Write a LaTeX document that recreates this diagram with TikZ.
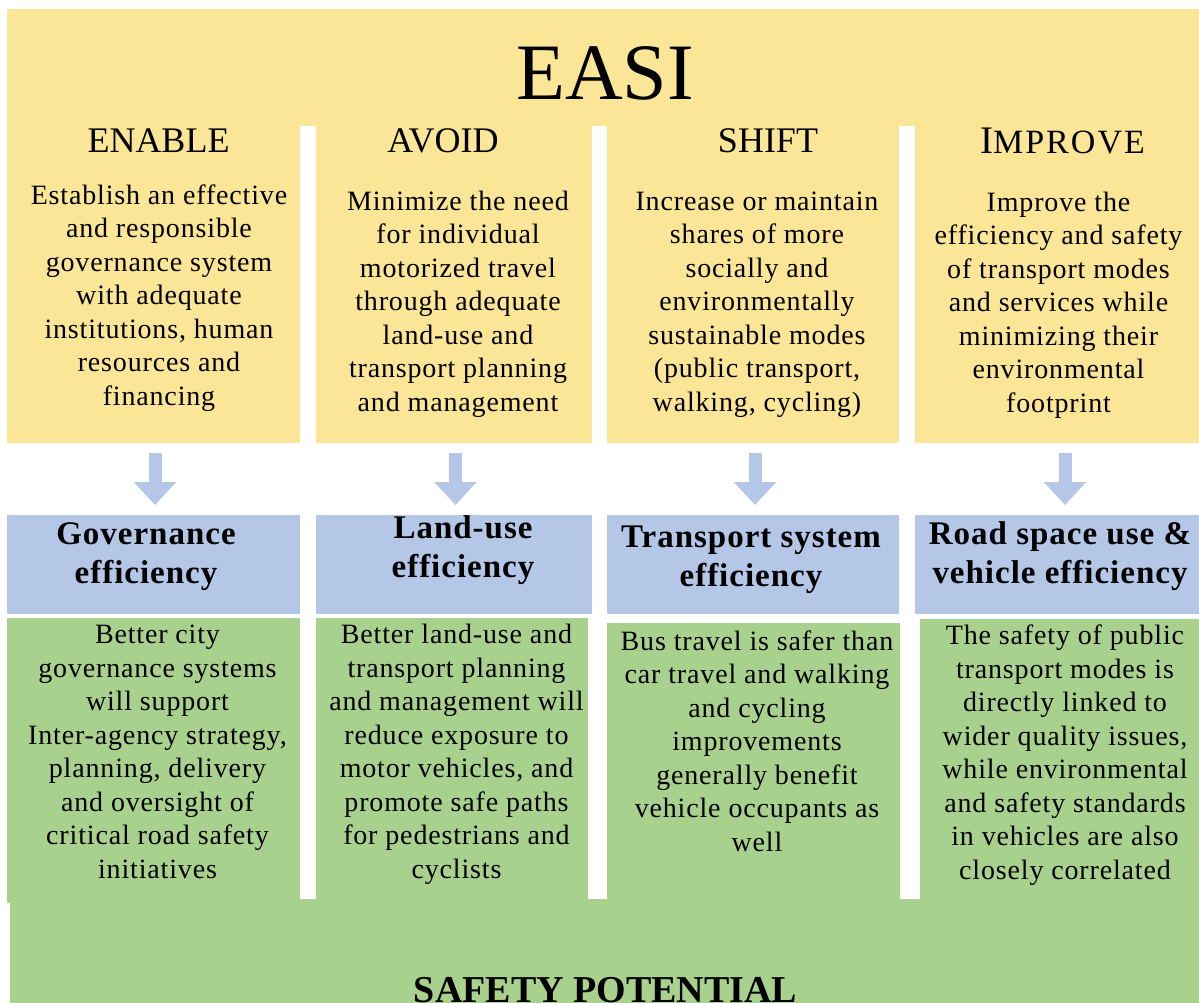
\documentclass[tikz,border=0pt]{standalone}
\usepackage{fontspec}
\setmainfont{Liberation Serif}
\usetikzlibrary{arrows.meta}
\definecolor{ylw}{HTML}{FBE596}
\definecolor{blu}{HTML}{B4C7E7}
\definecolor{grn}{HTML}{A9D18E}
\begin{document}
\begin{tikzpicture}[x=1pt,y=-1pt,
  panel/.style={rectangle, inner sep=0pt, outer sep=0pt, draw=none},
  ybox/.style={panel, fill=ylw},
  bbox/.style={panel, fill=blu},
  gbox/.style={panel, fill=grn},
  barrow/.style={draw=blu, line width=13pt, -{Triangle[width=41pt,length=23pt]}},
  ttl/.style={inner sep=0pt, anchor=base, font=\fontsize{80}{96}\selectfont},
  head/.style={inner sep=0pt, anchor=base, font=\fontsize{36}{40}\selectfont},
  body/.style={inner sep=0pt, anchor=base, align=center,
    font=\fontsize{28}{33.5}\selectfont\addfontfeature{LetterSpace=3}},
  eff/.style={inner sep=0pt, anchor=base, align=center,
    font=\fontsize{33}{39}\selectfont\bfseries\addfontfeature{LetterSpace=3}},
  pot/.style={inner sep=0pt, anchor=base, font=\fontsize{38}{44}\selectfont\bfseries}
]
\useasboundingbox[fill=white] (0,0) rectangle (1199,1003);

% yellow panels
\node[ybox, minimum width=1192pt, minimum height=117pt] (top) at (603,67.5) {};
\node[ybox, minimum width=293pt, minimum height=319pt] (y1) at (153.5,283.5) {};
\node[ybox, minimum width=276pt, minimum height=319pt] (y2) at (454,283.5) {};
\node[ybox, minimum width=292pt, minimum height=319pt] (y3) at (753,283.5) {};
\node[ybox, minimum width=284pt, minimum height=319pt] (y4) at (1057,283.5) {};

% blue panels
\node[bbox, minimum width=293pt, minimum height=99pt] (b1) at (153.5,564.5) {};
\node[bbox, minimum width=276pt, minimum height=99pt] (b2) at (454,564.5) {};
\node[bbox, minimum width=292pt, minimum height=99pt] (b3) at (753,564.5) {};
\node[bbox, minimum width=284pt, minimum height=99pt] (b4) at (1057,564.5) {};

% green panels
\node[gbox, minimum width=293pt, minimum height=285pt] (g1) at (153.5,760.5) {};
\node[gbox, minimum width=272pt, minimum height=281pt] (g2) at (452,758.5) {};
\node[gbox, minimum width=293pt, minimum height=276pt] (g3) at (753.5,761) {};
\node[gbox, minimum width=279pt, minimum height=280pt] (g4) at (1059.5,759) {};
\node[gbox, minimum width=1189pt, minimum height=104pt] (strip) at (604.5,951) {};

% arrows
\draw[barrow] ([xshift=1.5pt,yshift=-10pt]y1.south) -- ([xshift=1.5pt,yshift=10pt]b1.north);
\draw[barrow] ([xshift=1.5pt,yshift=-10pt]y2.south) -- ([xshift=1.5pt,yshift=10pt]b2.north);
\draw[barrow] ([xshift=2pt,yshift=-10pt]y3.south) -- ([xshift=2pt,yshift=10pt]b3.north);
\draw[barrow] ([xshift=8pt,yshift=-10pt]y4.south) -- ([xshift=8pt,yshift=10pt]b4.north);

% title and headings
\node[ttl] (easi) at (605,100) {EASI};
\node[head] (h1) at (158.5,153) {ENABLE};
\node[head] (h2) at (443,153) {AVOID};
\node[head] (h3) at (768,153) {SHIFT};
\node[head] (h4) at (1062.5,154) {{\fontsize{39}{40}\selectfont I}{\fontsize{34}{40}\selectfont\addfontfeature{LetterSpace=6}MPROVE}};

% yellow texts (anchor = baseline of last line)
\node[body] (t1) at (159,405) {Establish an effective\\and responsible\\governance system\\with adequate\\institutions, human\\resources and\\financing};
\node[body] (t2) at (458,411) {Minimize the need\\for individual\\motorized travel\\through adequate\\land-use and\\transport planning\\and management};
\node[body] (t3) at (757,411) {Increase or maintain\\shares of more\\socially and\\environmentally\\sustainable modes\\(public transport,\\walking, cycling)};
\node[body] (t4) at (1058.5,412) {Improve the\\efficiency and safety\\of transport modes\\and services while\\minimizing their\\environmental\\footprint};

% blue texts
\node[eff] (e1) at (146,583) {Governance\\efficiency};
\node[eff] (e2) at (463,577) {Land-use\\efficiency};
\node[eff] (e3) at (751,586) {Transport system\\efficiency};
\node[eff] (e4) at (1060,583) {Road space use \&\\vehicle efficiency};

% green texts
\node[body] (s1) at (157.5,878) {Better city\\governance systems\\will support\\Inter-agency strategy,\\planning, delivery\\and oversight of\\critical road safety\\initiatives};
\node[body] (s2) at (456.5,878) {Better land-use and\\transport planning\\and management will\\reduce exposure to\\motor vehicles, and\\promote safe paths\\for pedestrians and\\cyclists};
\node[body] (s3) at (757,851) {Bus travel is safer than\\car travel and walking\\and cycling\\improvements\\generally benefit\\vehicle occupants as\\well};
\node[body] (s4) at (1065,879) {The safety of public\\transport modes is\\directly linked to\\wider quality issues,\\while environmental\\and safety standards\\in vehicles are also\\closely correlated};

\node[pot] (sp) at (605.5,1002) {SAFETY POTENTIAL};
\end{tikzpicture}
\end{document}
